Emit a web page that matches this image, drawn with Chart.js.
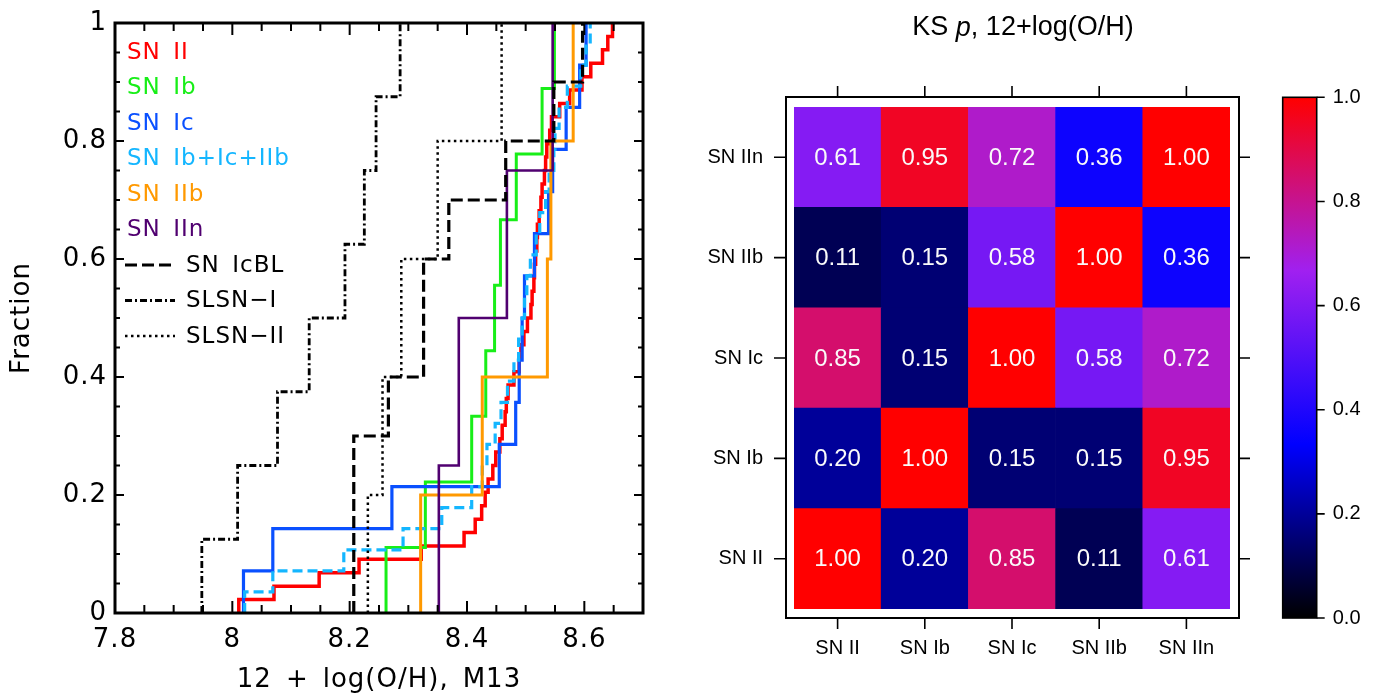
<!DOCTYPE html>
<html>
<head>
<meta charset="utf-8">
<script src="https://cdn.jsdelivr.net/npm/chart.js@4.4.1/dist/chart.umd.min.js"></script>
<style>
  html, body { margin:0; padding:0; background:#fff; }
  #wrap { position:relative; width:1373px; height:693px; overflow:hidden; }
  canvas { position:absolute; top:0; }
  #cdf { left:0; }
  #heat { left:690px; }
  #bar { left:1270px; }
</style>
</head>
<body>
<div id="wrap">
  <canvas id="cdf" width="690" height="693"></canvas>
  <canvas id="heat" width="580" height="693"></canvas>
  <canvas id="bar" width="103" height="693"></canvas>
</div>
<script>
// --- left panel: cumulative metallicity distributions, 12+log(O/H) M13 ---
const snII = [8.011, 8.071, 8.148, 8.216, 8.322, 8.395, 8.414, 8.425, 8.431, 8.436,
              8.444, 8.449, 8.456, 8.460, 8.465, 8.467, 8.470, 8.480, 8.489, 8.492,
              8.497, 8.503, 8.509, 8.511, 8.514, 8.515, 8.517, 8.519, 8.520, 8.523,
              8.526, 8.528, 8.532, 8.534, 8.536, 8.541, 8.544, 8.558, 8.575, 8.596,
              8.611, 8.631, 8.640, 8.648];
const snIb = [8.262, 8.329, 8.408, 8.432, 8.447, 8.457, 8.484, 8.528, 8.549];
const snIc = [8.019, 8.069, 8.272, 8.455, 8.483, 8.489, 8.494, 8.498, 8.515, 8.539,
              8.546, 8.569, 8.592, 8.603];
const snIbcIIb = [8.021, 8.069, 8.190, 8.291, 8.357, 8.408, 8.426, 8.434, 8.448, 8.458,
                  8.469, 8.480, 8.488, 8.494, 8.498, 8.502, 8.508, 8.518, 8.524, 8.534,
                  8.540, 8.548, 8.550, 8.557, 8.571, 8.594, 8.603, 8.610];
const snIIb = [8.321, 8.426, 8.537, 8.543, 8.581];
const snIIn = [8.352, 8.386, 8.468, 8.546];
const snIcBL = [8.207, 8.207, 8.207, 8.266, 8.326, 8.326, 8.369, 8.466, 8.548, 8.597];
const slsnI = [7.948, 8.009, 8.077, 8.131, 8.192, 8.225, 8.245, 8.286];
const slsnII = [8.231, 8.256, 8.288, 8.350, 8.459];

const xTicks = [7.8, 8, 8.2, 8.4, 8.6];
const yTicks = [0, 0.2, 0.4, 0.6, 0.8, 1];

// --- right panel: KS p-values ---
const types = ['SN II', 'SN Ib', 'SN Ic', 'SN IIb', 'SN IIn'];
const ksII  = [1.00, 0.20, 0.85, 0.11, 0.61];
const ksIb  = [0.20, 1.00, 0.15, 0.15, 0.95];
const ksIc  = [0.85, 0.15, 1.00, 0.58, 0.72];
const ksIIb = [0.11, 0.15, 0.58, 1.00, 0.36];
const ksIIn = [0.61, 0.95, 0.72, 0.36, 1.00];
const ksRows = [ksII, ksIb, ksIc, ksIIb, ksIIn];

// black -> blue -> purple -> red
const rampStops = [[0, [0, 0, 0]], [1/3, [0, 0, 255]], [2/3, [160, 32, 240]], [1, [255, 0, 0]]];

const hershey = '"DejaVu Sans", sans-serif';
const arial = '"Liberation Sans", Arial, sans-serif';

const series = [
  { name: 'SN\u2002II',        vals: snII,     color: '#ff0000', w: 3.5, dash: [] },
  { name: 'SN\u2002Ib',        vals: snIb,     color: '#18ee18', w: 3,   dash: [] },
  { name: 'SN\u2002Ic',        vals: snIc,     color: '#0a50ff', w: 3.2, dash: [] },
  { name: 'SN\u2002Ib+Ic+IIb', vals: snIbcIIb, color: '#14b6ff', w: 3.2, dash: [10, 5] },
  { name: 'SN\u2002IIb',       vals: snIIb,    color: '#ff9900', w: 3,   dash: [] },
  { name: 'SN\u2002IIn',       vals: snIIn,    color: '#500070', w: 2.6, dash: [] },
  { name: 'SN\u2002IcBL',      vals: snIcBL,   color: '#000000', w: 3.2, dash: [12, 5] },
  { name: 'SLSN\u2212I',       vals: slsnI,    color: '#000000', w: 2.8, dash: [7, 3, 2, 3] },
  { name: 'SLSN\u2212II',      vals: slsnII,   color: '#000000', w: 2.5, dash: [2.5, 3.5] },
];

function cdf(vals) {
  const n = vals.length;
  const pts = [{ x: vals[0], y: 0 }];
  vals.forEach((v, i) => pts.push({ x: v, y: (i + 1) / n }));
  return pts;
}

function ramp(v) {
  for (let i = 1; i < rampStops.length; i++) {
    const [t0, c0] = rampStops[i - 1], [t1, c1] = rampStops[i];
    if (v <= t1) {
      const f = (v - t0) / (t1 - t0);
      const c = c0.map((a, k) => Math.round(a + (c1[k] - a) * f));
      return `rgb(${c.join(',')})`;
    }
  }
  return 'rgb(255,0,0)';
}

// frame, inward ticks and the text legend of the left panel
const cdfDecor = {
  id: 'cdfDecor',
  beforeDraw(chart) {
    chart.ctx.letterSpacing = '1px';  // the stroke font of the original is wide
  },
  afterDraw(chart) {
    const { ctx, chartArea: a, scales: { x, y } } = chart;
    ctx.save();
    ctx.strokeStyle = '#000';
    ctx.lineWidth = 2;
    ctx.beginPath();
    for (let i = 0; i <= 18; i++) {
      const px = x.getPixelForValue(7.8 + i * 0.05);
      const len = i % 4 === 0 ? 12 : 8;
      ctx.moveTo(px, a.bottom); ctx.lineTo(px, a.bottom - len);
      ctx.moveTo(px, a.top); ctx.lineTo(px, a.top + len);
    }
    for (let i = 0; i <= 20; i++) {
      const py = y.getPixelForValue(i * 0.05);
      const len = i % 4 === 0 ? 9 : 5;
      ctx.moveTo(a.left, py); ctx.lineTo(a.left + len, py);
      ctx.moveTo(a.right, py); ctx.lineTo(a.right - len, py);
    }
    ctx.stroke();
    ctx.lineWidth = 3;
    ctx.strokeRect(a.left, a.top, a.right - a.left, a.bottom - a.top);

    // legend
    ctx.font = '23px ' + hershey;
    ctx.textBaseline = 'middle';
    series.forEach((s, i) => {
      const ty = 52 + i * 35.5;
      if (s.color === '#000000') {
        ctx.strokeStyle = '#000';
        ctx.lineWidth = s.w;
        ctx.setLineDash(s.dash);
        ctx.beginPath(); ctx.moveTo(125, ty); ctx.lineTo(175, ty); ctx.stroke();
        ctx.setLineDash([]);
        ctx.fillStyle = '#000';
        ctx.fillText(s.name, 186, ty + 1);
      } else {
        ctx.fillStyle = s.color;
        ctx.fillText(s.name, 127, ty + 1);
      }
    });
    ctx.restore();
  }
};

new Chart(document.getElementById('cdf'), {
  type: 'line',
  data: {
    datasets: series.map((s, i) => ({
      label: s.name,
      data: cdf(s.vals),
      borderColor: s.color,
      borderWidth: s.w,
      borderDash: s.dash,
      stepped: 'before',
      pointRadius: 0,
      fill: false,
      order: series.length - i
    }))
  },
  options: {
    responsive: false,
    animation: false,
    layout: { padding: { top: 23, right: 47, left: 0, bottom: 0 } },
    plugins: { legend: { display: false }, tooltip: { enabled: false } },
    scales: {
      x: {
        type: 'linear', min: 7.8, max: 8.7,
        grid: { display: false }, border: { display: false },
        afterBuildTicks: s => { s.ticks = xTicks.map(v => ({ value: v })); },
        afterFit: s => { s.height = 80; },
        ticks: { font: { family: hershey, size: 26 }, color: '#000', padding: 4,
                 callback: v => String(v) },
        title: { display: true, text: '12\u2002+\u2002log(O/H),\u2002M13', color: '#000',
                 font: { family: hershey, size: 26, lineHeight: 1 }, padding: { bottom: 0 } }
      },
      y: {
        min: 0, max: 1,
        grid: { display: false }, border: { display: false },
        afterBuildTicks: s => { s.ticks = yTicks.map(v => ({ value: v })); },
        afterFit: s => { s.width = 115; },
        ticks: { font: { family: hershey, size: 26 }, color: '#000', padding: 0,
                 callback: v => String(v) },
        title: { display: true, text: 'Fraction', color: '#000',
                 font: { family: hershey, size: 26, lineHeight: 1 }, padding: { top: 9 } }
      }
    }
  },
  plugins: [cdfDecor]
});

// frame, outside ticks, cell values and title of the KS matrix
const heatDecor = {
  id: 'heatDecor',
  afterDatasetsDraw(chart) {
    const ctx = chart.ctx;
    ctx.save();
    ctx.fillStyle = '#fafafa';
    ctx.font = '24px ' + arial;
    ctx.textAlign = 'center';
    ctx.textBaseline = 'middle';
    chart.data.datasets.forEach((ds, i) => {
      chart.getDatasetMeta(i).data.forEach((bar, j) => {
        const p = bar.getCenterPoint();
        ctx.fillText(ds.values[j].toFixed(2), p.x, p.y + 1);
      });
    });
    ctx.restore();
  },
  afterDraw(chart) {
    const { ctx, chartArea: a, scales: { x, y } } = chart;
    const L = a.left - 8, R = a.right + 9, T = a.top - 10, B = a.bottom + 9;
    ctx.save();
    ctx.strokeStyle = '#000';
    ctx.lineWidth = 2;
    ctx.strokeRect(L, T, R - L, B - T);
    ctx.lineWidth = 1.6;
    ctx.beginPath();
    types.forEach((t, i) => {
      const px = x.getPixelForValue(i);
      ctx.moveTo(px, T); ctx.lineTo(px, T - 11);
      ctx.moveTo(px, B); ctx.lineTo(px, B + 11);
      const py = y.getPixelForValue(i + 0.5);
      ctx.moveTo(L, py); ctx.lineTo(L - 12, py);
      ctx.moveTo(R, py); ctx.lineTo(R + 11, py);
    });
    ctx.stroke();

    // title with italic p
    const parts = [['KS ', ''], ['p', 'italic '], [', 12+log(O/H)', '']];
    let total = 0;
    parts.forEach(p => { ctx.font = p[1] + '27px ' + arial; total += ctx.measureText(p[0]).width; });
    let tx = 333 - total / 2;
    ctx.fillStyle = '#000';
    ctx.textBaseline = 'middle';
    ctx.textAlign = 'left';
    parts.forEach(p => {
      ctx.font = p[1] + '27px ' + arial;
      ctx.fillText(p[0], tx, 28);
      tx += ctx.measureText(p[0]).width;
    });
    ctx.restore();
  }
};

new Chart(document.getElementById('heat'), {
  type: 'bar',
  data: {
    labels: types,
    datasets: ksRows.map((row, i) => ({
      label: types[i],
      data: types.map(() => 1),
      values: row,
      backgroundColor: row.map(ramp),
      borderWidth: 0,
      barPercentage: 1,
      categoryPercentage: 1
    }))
  },
  options: {
    responsive: false,
    animation: false,
    layout: { padding: { top: 107, right: 40, left: 0, bottom: 0 } },
    plugins: { legend: { display: false }, tooltip: { enabled: false } },
    scales: {
      x: {
        stacked: true,
        grid: { display: false }, border: { display: false },
        afterFit: s => { s.height = 84; },
        ticks: { font: { family: arial, size: 20 }, color: '#000', padding: 19 }
      },
      y: {
        stacked: true, min: 0, max: 5,
        grid: { display: false }, border: { display: false },
        afterBuildTicks: s => { s.ticks = types.map((t, i) => ({ value: i + 0.5 })); },
        afterFit: s => { s.width = 104; },
        ticks: { font: { family: arial, size: 20 }, color: '#000', padding: 23,
                 callback: v => types[Math.floor(v)] }
      }
    }
  },
  plugins: [heatDecor]
});

// colour bar
function rampGradient(chart) {
  const a = chart.chartArea;
  if (!a) return '#000';
  const g = chart.ctx.createLinearGradient(0, a.bottom, 0, a.top);
  rampStops.forEach(([t, c]) => g.addColorStop(t, `rgb(${c.join(',')})`));
  return g;
}

const barDecor = {
  id: 'barDecor',
  afterDraw(chart) {
    const { ctx, chartArea: a, scales: { y } } = chart;
    ctx.save();
    ctx.strokeStyle = '#000';
    ctx.lineWidth = 1.6;
    ctx.strokeRect(a.left, a.top, a.right - a.left, a.bottom - a.top);
    ctx.beginPath();
    y.ticks.forEach(t => {
      const py = y.getPixelForValue(t.value);
      ctx.moveTo(a.right, py); ctx.lineTo(a.right + 8, py);
    });
    ctx.stroke();
    ctx.restore();
  }
};

new Chart(document.getElementById('bar'), {
  type: 'bar',
  data: {
    labels: [''],
    datasets: [{ data: [[0, 1]], backgroundColor: c => rampGradient(c.chart),
                 borderWidth: 0, barPercentage: 1, categoryPercentage: 1 }]
  },
  options: {
    responsive: false,
    animation: false,
    layout: { padding: { left: 12.7, top: 97.3, bottom: 75, right: 0 } },
    plugins: { legend: { display: false }, tooltip: { enabled: false } },
    scales: {
      x: { display: false },
      y: {
        position: 'right', min: 0, max: 1,
        grid: { display: false }, border: { display: false },
        afterFit: s => { s.width = 56.3; },
        ticks: { stepSize: 0.2, font: { family: arial, size: 20 }, color: '#000', padding: 8,
                 callback: v => v.toFixed(1) }
      }
    }
  },
  plugins: [barDecor]
});
</script>
</body>
</html>
